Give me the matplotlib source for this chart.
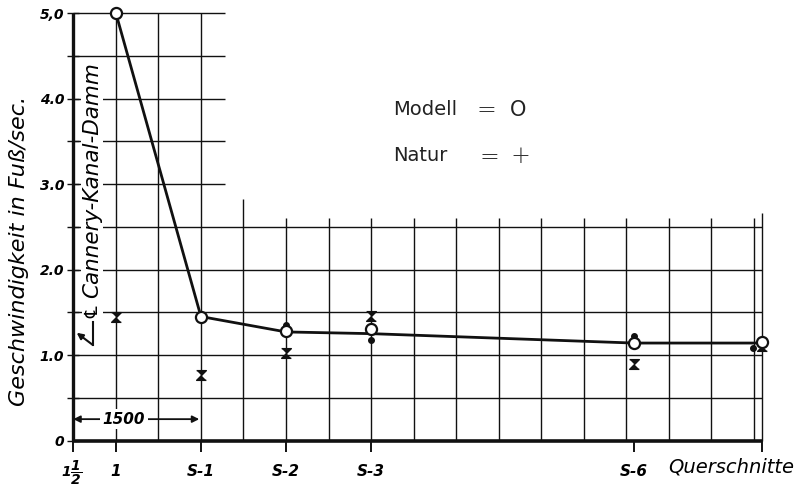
import numpy as np
import matplotlib.pyplot as plt

plt.rcParams["mathtext.fontset"] = "dejavusans"

# x positions are in grid units of 500 ft, 0 = cross section "1 1/2"
station_labels = ["", "1", "S-1", "S-2", "S-3", "S-6", ""]
station_x = [0, 1, 3, 5, 7, 13.17, 16.19]

# Modell (circles) and the drawn curve through them
modell_x = [1, 3, 5, 7, 13.17, 16.19]
modell = [5.0, 1.45, 1.28, 1.30, 1.145, 1.155]
kurve = [5.0, 1.45, 1.27, 1.25, 1.14, 1.14]

# Natur (crosses) and the small dots
natur_x = [1, 3, 5, 7, 13.17, 16.2]
natur = [1.44, 0.77, 1.02, 1.46, 0.90, 1.10]
punkte_x = [5, 7, 13.17, 15.97]
punkte = [1.35, 1.18, 1.22, 1.08]

y_ticks = [0, 0.5, 1.0, 1.5, 2.0, 2.5, 3.0, 3.5, 4.0, 4.5, 5.0]
y_labels = ["0", "", "1.0", "", "2.0", "", "3.0", "", "4.0", "", "5,0"]

ink = "#111111"
x_end = 16.19

fig = plt.figure(figsize=(8.03, 4.88), dpi=100)
ax = fig.add_axes([0.0913, 0.0973, 0.8577, 0.876])
ax.set_xlim(0, x_end)
ax.set_ylim(0, 5.0)
for s in ax.spines.values():
    s.set_visible(False)

# grid - lower part runs the full width, upper left block only to ~3.6
ax.hlines([0.5, 1.0, 1.5, 2.0, 2.5], 0, x_end, color=ink, lw=1.0, zorder=1)
ax.hlines([3.0, 3.5, 4.0, 4.5, 5.0], 0, 3.57, color=ink, lw=1.0, zorder=1, clip_on=False)
ax.vlines([1, 2, 3], 0, 5.0, color=ink, lw=1.0, zorder=1)
ax.vlines([4], 0, 2.82, color=ink, lw=1.0, zorder=1)
ax.vlines(np.arange(5, 17), 0, 2.6, color=ink, lw=1.0, zorder=1)
ax.vlines([x_end], 0, 2.66, color=ink, lw=1.0, zorder=1, clip_on=False)

# heavy axes
ax.plot([0, 0], [0, 5.0], color=ink, lw=2.4, zorder=2, clip_on=False, solid_capstyle="butt")
ax.plot([0, x_end], [0, 0], color=ink, lw=2.6, zorder=2, clip_on=False, solid_capstyle="butt")

ax.set_yticks(y_ticks)
ax.set_yticklabels(y_labels)
ax.set_xticks(station_x)
ax.set_xticklabels(station_labels)
ax.tick_params(axis="y", direction="inout", length=9, width=1.0, pad=2, labelsize=10, color=ink)
ax.tick_params(axis="x", direction="out", length=8, width=1.4, pad=9, labelsize=11, color=ink)
for lab in ax.get_xticklabels() + ax.get_yticklabels():
    lab.set_fontstyle("italic")
    lab.set_fontweight("bold")

# first station "1 1/2" with a stacked fraction
ax.text(-0.05, -0.38, r"$\mathbfit{1\dfrac{1}{2}}$", fontsize=10, ha="center", va="center", clip_on=False)

ax.text(15.46, -0.31, "Querschnitte", fontsize=14, style="italic", ha="center", va="center", clip_on=False)
fig.text(0.024, 0.486, "Geschwindigkeit in Fuß/sec.", rotation=90, fontsize=16, style="italic",
         ha="center", va="center")

# dam centre line
white = dict(facecolor="white", edgecolor="none", pad=1)
ax.text(0.44, 3.05, "Cannery-Kanal-Damm", rotation=90, fontsize=15.5, style="italic", ha="center", va="center",
        bbox=white, zorder=3)
ax.text(0.46, 1.50, "\u2104", rotation=90, fontsize=13, ha="center", va="center", bbox=white, zorder=3,
        family=["DejaVu Sans", "Noto Sans"])
ax.plot([0.46, 0.46], [1.386, 1.117], color=ink, lw=1.5, zorder=3)
ax.annotate("", xy=(0.08, 1.26), xytext=(0.46, 1.117),
            arrowprops=dict(arrowstyle="-|>", color=ink, lw=1.5, mutation_scale=9, shrinkA=0, shrinkB=0))

# 1500 ft dimension
ax.annotate("", xy=(0, 0.25), xytext=(2.96, 0.25),
            arrowprops=dict(arrowstyle="<|-|>", color=ink, lw=1.3, mutation_scale=10, shrinkA=0, shrinkB=0))
ax.text(1.18, 0.25, "1500", fontsize=11, style="italic", weight="bold", ha="center", va="center",
        bbox=dict(facecolor="white", edgecolor="none", pad=2), zorder=3)

# legend
leg_font = dict(family="DejaVu Sans", fontsize=14, color="#222222", va="center")
ax.text(7.52, 3.87, "Modell", ha="left", **leg_font)
ax.text(7.52, 3.33, "Natur", ha="left", **leg_font)
sign_font = dict(family="DejaVu Sans", fontsize=17, color="#333333", va="center", ha="center", weight="light")
ax.text(9.72, 3.86, "=", **sign_font)
ax.text(10.45, 3.87, "O", ha="center", family="DejaVu Sans", fontsize=15, color="#222222", va="center")
ax.text(9.78, 3.32, "=", **sign_font)
ax.text(10.5, 3.33, "+", **sign_font)

# data
hourglass = [(-1, 1), (1, 1), (-1, -1), (1, -1)]
ax.plot(modell_x, kurve, color=ink, lw=2.0, zorder=4, clip_on=False)
ax.plot(punkte_x, punkte, "o", color=ink, ms=4, zorder=5, clip_on=False)
ax.plot(natur_x, natur, linestyle="none", marker=hourglass, color=ink, ms=7, zorder=5, clip_on=False)
ax.plot(modell_x, modell, "o", mfc="white", mec=ink, mew=1.6, ms=8, zorder=6, clip_on=False)

fig.savefig("out.png", dpi=100)
